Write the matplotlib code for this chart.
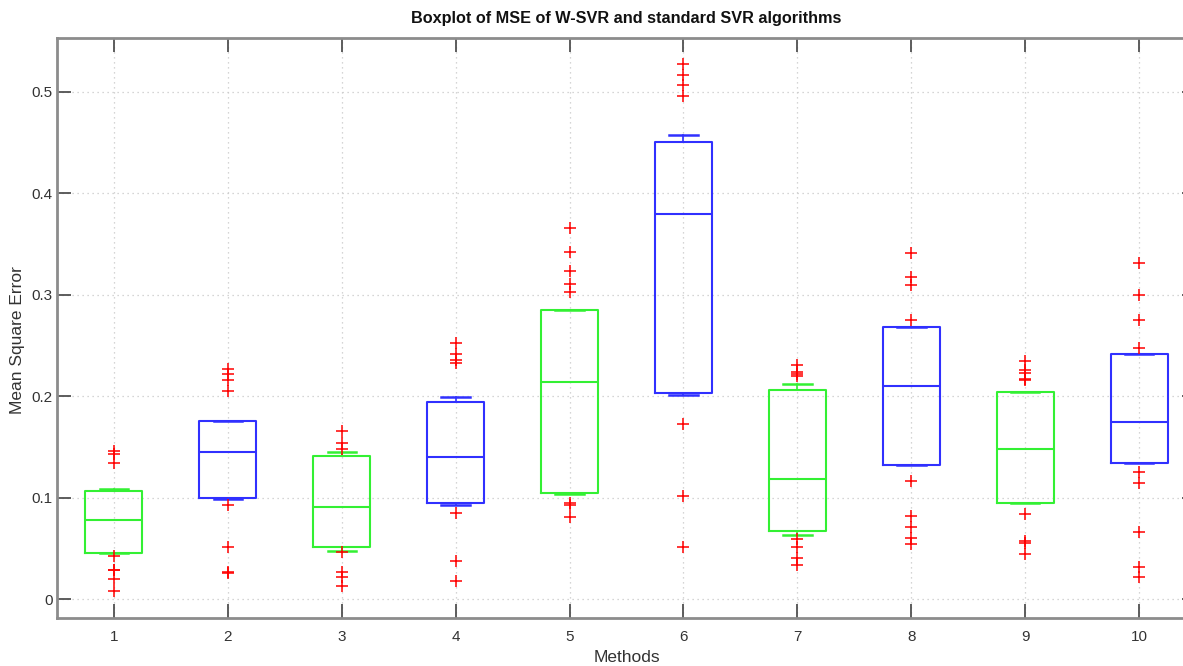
import matplotlib
matplotlib.use("Agg")
import matplotlib.pyplot as plt

# Per-method box statistics (Mean Square Error)
methods = ["1", "2", "3", "4", "5", "6", "7", "8", "9", "10"]
q1 = [0.0457, 0.0999, 0.0516, 0.0945, 0.1041, 0.2026, 0.0669, 0.1322, 0.0946, 0.1342]
median = [0.0775, 0.1447, 0.0911, 0.1399, 0.2142, 0.3795, 0.1180, 0.2097, 0.1480, 0.1741]
q3 = [0.1066, 0.1755, 0.1410, 0.1944, 0.2848, 0.4509, 0.2061, 0.2677, 0.2038, 0.2417]
whisker_lo = [0.0457, 0.0983, 0.0476, 0.0928, 0.1031, 0.2015, 0.0633, 0.1322, 0.0946, 0.1342]
whisker_hi = [0.1089, 0.1755, 0.1447, 0.1989, 0.2848, 0.4571, 0.2117, 0.2677, 0.2038, 0.2417]
outliers = [
    [0.1463, 0.1430, 0.1338, 0.0424, 0.0289, 0.0283, 0.0197, 0.0082],
    [0.2265, 0.2219, 0.2157, 0.2054, 0.0927, 0.0516, 0.0262, 0.0255],
    [0.1657, 0.1535, 0.1480, 0.0463, 0.0269, 0.0220, 0.0131],
    [0.2527, 0.2415, 0.2355, 0.2322, 0.0852, 0.0373, 0.0175],
    [0.3657, 0.3419, 0.3234, 0.3102, 0.3029, 0.0951, 0.0925, 0.0809],
    [0.5278, 0.5161, 0.5066, 0.4960, 0.1729, 0.1011, 0.0509],
    [0.2308, 0.2235, 0.2216, 0.2199, 0.0587, 0.0511, 0.0406, 0.0336],
    [0.3406, 0.3178, 0.3096, 0.2753, 0.1164, 0.0818, 0.0709, 0.0603, 0.0541],
    [0.2348, 0.2258, 0.2225, 0.2173, 0.2160, 0.0841, 0.0567, 0.0554, 0.0445],
    [0.3314, 0.2994, 0.2753, 0.2476, 0.1256, 0.1147, 0.0656, 0.0313, 0.0214],
]

GREEN = "#33f033"
BLUE = "#3030ff"
SPINE = "#8c8c8c"
TEXT = "#333333"

plt.rcParams["font.family"] = ["Liberation Sans", "DejaVu Sans"]

fig = plt.figure(figsize=(11.83, 6.66), dpi=100)
ax = fig.add_axes([0.0482, 0.0721, 0.9628, 0.8709])

stats = []
for i, name in enumerate(methods):
    stats.append(dict(label=name, q1=q1[i], med=median[i], q3=q3[i],
                      whislo=whisker_lo[i], whishi=whisker_hi[i],
                      fliers=outliers[i]))

positions = list(range(1, len(methods) + 1))
res = ax.bxp(stats, positions=positions, widths=0.5, capwidths=0.25,
             showfliers=True, patch_artist=False)

# odd methods green (W-SVR), even methods blue (standard SVR)
for i in range(len(methods)):
    c = GREEN if i % 2 == 0 else BLUE
    res["boxes"][i].set(color=c, linewidth=1.5)
    res["medians"][i].set(color=c, linewidth=1.5)
    for k in (2 * i, 2 * i + 1):
        res["whiskers"][k].set(color=c, linewidth=1.2)
        res["caps"][k].set(color=c, linewidth=1.8)
    res["fliers"][i].set(marker="+", markeredgecolor="red", markersize=8,
                         markeredgewidth=1.1, linestyle="none")

ax.set_xlim(0.5, 10.5)
ax.set_ylim(-0.0187, 0.553)
ax.set_xticks(positions)
ax.set_xticklabels(methods)
ax.set_yticks([0, 0.1, 0.2, 0.3, 0.4, 0.5])
ax.set_yticklabels(["0", "0.1", "0.2", "0.3", "0.4", "0.5"])

ax.grid(True, linestyle=(0, (1, 3)), color="#c8c8c8", linewidth=0.9)
ax.set_axisbelow(True)

for side in ("left", "bottom", "top", "right"):
    ax.spines[side].set_color(SPINE)
    ax.spines[side].set_linewidth(2)

ax.tick_params(axis="both", direction="in", length=10, width=1.3,
               color="#505050", labelsize=11, labelcolor=TEXT,
               top=True, right=True)
ax.tick_params(axis="x", pad=9)
ax.tick_params(axis="y", pad=3)

ax.set_title("Boxplot of MSE of W-SVR and standard SVR algorithms",
             fontsize=11.7, fontweight="bold", color="#111111", pad=11,
             family=["Liberation Sans Narrow", "Liberation Sans", "DejaVu Sans"])
ax.set_xlabel("Methods", fontsize=12.5, color=TEXT)
ax.set_ylabel("Mean Square Error", fontsize=12.5, color=TEXT)
ax.xaxis.set_label_coords(0.5, -0.055)
ax.yaxis.set_label_coords(-0.028, 0.479)

fig.savefig("out.png", dpi=100)
